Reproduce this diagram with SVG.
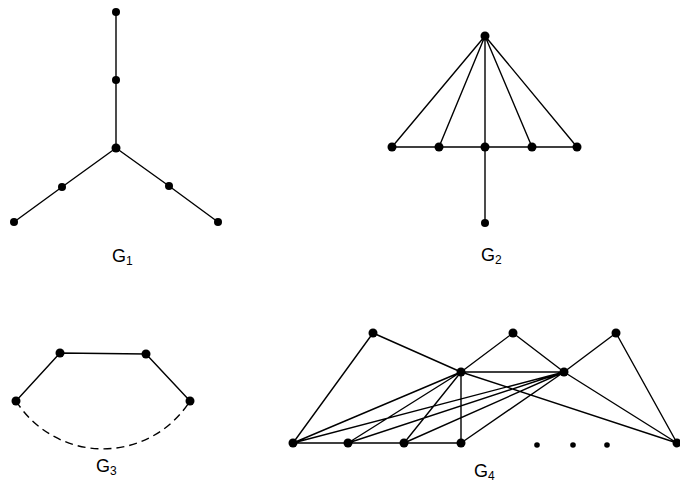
<svg xmlns="http://www.w3.org/2000/svg" width="680" height="485" viewBox="0 0 680 485">
<style>
.e{stroke:#000;stroke-width:1.4;fill:none}
.d{stroke:#000;stroke-width:1.4;fill:none;stroke-dasharray:8 5}
.n{fill:#000}
.t{font-family:"Liberation Sans",Arial,sans-serif;font-size:18px;fill:#000}
.s{font-size:12px}
</style>
<rect width="680" height="485" fill="#fff"/>
<g id="connectors">
<!-- G1 -->
<path class="e" d="M116 12 L116 80 L116 148 M116 148 L62 187 L14 222 M116 148 L169 186 L218 222"/>
<!-- G2 -->
<path class="e" d="M485 36 L392 147 M485 36 L439 147 M485 36 L485 147 M485 36 L532 147 M485 36 L577 147 M392 147 L577 147 M485 147 L485 223"/>
<!-- G3 -->
<path class="e" d="M16 401 L60 353 L146 354 L190 401"/>
<path class="d" d="M16 401 A103 103 0 0 0 190 401"/>
<!-- G4 -->
<path class="e" d="M373 333 L293 443 M373 333 L461 372 M513 333 L461 372 M513 333 L564 372 M616 333 L564 372 M616 333 L677 443 M461 372 L564 372 M461 372 L677 443 M564 372 L677 443 M461 372 L293 443 M461 372 L348 443 M461 372 L404 443 M461 372 L461 443 M564 372 L293 443 M564 372 L348 443 M564 372 L404 443 M564 372 L461 443 M293 443 L461 443"/>
</g>
<g id="G1">
<circle class="n" cx="116" cy="12" r="4"/>
<circle class="n" cx="116" cy="80" r="4"/>
<circle class="n" cx="116" cy="148" r="4.5"/>
<circle class="n" cx="62" cy="187" r="4"/>
<circle class="n" cx="14" cy="222" r="4"/>
<circle class="n" cx="169" cy="186" r="4"/>
<circle class="n" cx="218" cy="222" r="4"/>
<text class="t" x="112" y="262">G<tspan class="s" dy="3">1</tspan></text>
</g>
<g id="G2">
<circle class="n" cx="485" cy="36" r="4.5"/>
<circle class="n" cx="392" cy="147" r="4.5"/>
<circle class="n" cx="439" cy="147" r="4.5"/>
<circle class="n" cx="485" cy="147" r="4.5"/>
<circle class="n" cx="532" cy="147" r="4.5"/>
<circle class="n" cx="577" cy="147" r="4.5"/>
<circle class="n" cx="485" cy="223" r="4"/>
<text class="t" x="481" y="261">G<tspan class="s" dy="3">2</tspan></text>
</g>
<g id="G3">
<circle class="n" cx="16" cy="401" r="4.5"/>
<circle class="n" cx="60" cy="353" r="4.5"/>
<circle class="n" cx="146" cy="354" r="4.5"/>
<circle class="n" cx="190" cy="401" r="4.5"/>
<text class="t" x="96" y="472">G<tspan class="s" dy="3">3</tspan></text>
</g>
<g id="G4">
<circle class="n" cx="373" cy="333" r="4.5"/>
<circle class="n" cx="513" cy="333" r="4.5"/>
<circle class="n" cx="616" cy="333" r="4.5"/>
<circle class="n" cx="461" cy="372" r="4.5"/>
<circle class="n" cx="564" cy="372" r="4.5"/>
<circle class="n" cx="293" cy="443" r="4.5"/>
<circle class="n" cx="348" cy="443" r="4.5"/>
<circle class="n" cx="404" cy="443" r="4.5"/>
<circle class="n" cx="461" cy="443" r="4.5"/>
<circle class="n" cx="677" cy="443" r="4.5"/>
<circle class="n" cx="537" cy="445" r="2.8"/>
<circle class="n" cx="573" cy="445" r="2.8"/>
<circle class="n" cx="607" cy="445" r="2.8"/>
<text class="t" x="474" y="477">G<tspan class="s" dy="3">4</tspan></text>
</g>
</svg>
